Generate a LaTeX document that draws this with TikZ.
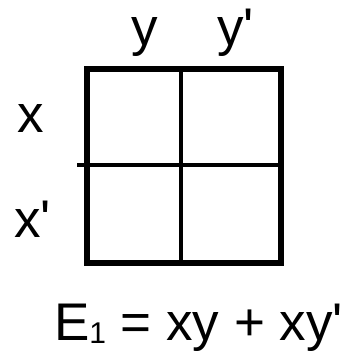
\documentclass[tikz,border=0pt]{standalone}
\usepackage{fontspec}
\newfontfamily\arial{Liberation Sans}
\begin{document}
\begin{tikzpicture}[x=1pt,y=-1pt,
  lbl/.style={inner sep=0pt,outer sep=0pt,anchor=base west,font=\arial\fontsize{53}{53}\selectfont},
  outer/.style={line width=5.5pt},
  inner/.style={line width=3.5pt}]
\useasboundingbox (0,0) rectangle (343,356);
\coordinate (tl) at (87,69);
\coordinate (br) at (281,263);
\coordinate (vt) at (181,69);
\coordinate (vb) at (181,263);
\coordinate (hl) at (77,165);
\coordinate (hr) at (281,165);
\draw[inner] (vt) -- (vb);
\draw[inner] (hl) -- (hr);
\draw[outer] (tl) rectangle (br);
\node[lbl] (ly) at (131,45.5) {y};
\node[lbl] (lyp) at (217,45.5) {y'};
\node[lbl] (lx) at (17,132) {x};
\node[lbl] (lxp) at (14,237) {x'};
\node[lbl] (eq) at (54,340) {E\raisebox{-3pt}{\fontsize{30}{30}\selectfont 1} = xy + xy'};
\end{tikzpicture}
\end{document}
